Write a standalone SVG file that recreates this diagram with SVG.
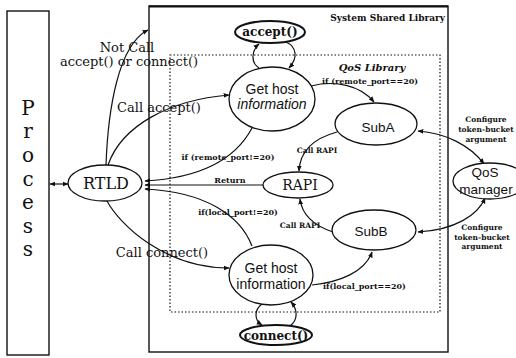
<svg xmlns="http://www.w3.org/2000/svg" width="516" height="358" viewBox="0 0 516 358">
  <defs>
    <marker id="ah" viewBox="0 0 10 10" refX="9" refY="5" markerWidth="6" markerHeight="6" markerUnits="userSpaceOnUse" orient="auto-start-reverse">
      <path d="M0,1 L10,5 L0,9 z" fill="#111"/>
    </marker>
  </defs>
  <style>
    .box { fill: none; stroke: #111; stroke-width: 1.4; }
    .dotted { fill: none; stroke: #111; stroke-width: 1.2; stroke-dasharray: 1.5 2; }
    .node { fill: #fff; stroke: #111; stroke-width: 1.3; }
    .call { fill: #fff; stroke: #111; stroke-width: 2; }
    .edge { fill: none; stroke: #111; stroke-width: 1.2; }
    text { fill: #111; }
    .serif { font-family: "DejaVu Serif", serif; }
    .sans { font-family: "Liberation Sans", Arial, sans-serif; }
    .big { font-family: "DejaVu Serif", serif; font-size: 13px; }
    .cond { font-family: "DejaVu Serif", serif; font-size: 8px; font-weight: bold; }
    .small { font-family: "DejaVu Serif", serif; font-size: 7.5px; font-weight: bold; }
    .proc { font-family: "DejaVu Serif", serif; font-size: 20px; }
  </style>

  <!-- Process column -->
  <g id="process">
    <rect class="box" x="7" y="11" width="42" height="344"/>
    <g class="proc" text-anchor="middle">
      <text x="28" y="115">P</text>
      <text x="28" y="138">r</text>
      <text x="28" y="162">o</text>
      <text x="28" y="186">c</text>
      <text x="28" y="209">e</text>
      <text x="28" y="233">s</text>
      <text x="28" y="256">s</text>
    </g>
  </g>

  <!-- Library frames -->
  <g id="system-shared-library">
    <rect class="box" x="149" y="6" width="299" height="346"/>
    <line x1="149" y1="6.5" x2="448" y2="6.5" stroke="#111" stroke-width="2"/>
    <text class="serif" x="445" y="21" font-size="9" font-weight="bold" text-anchor="end">System Shared Library</text>
  </g>
  <g id="qos-library">
    <rect class="dotted" x="170" y="55" width="270" height="257"/>
    <text class="serif" x="372" y="71" font-size="10" font-weight="bold" font-style="italic" text-anchor="middle">QoS Library</text>
  </g>

  <!-- Connectors -->
  <g id="connectors">
    <path class="edge" d="M50,184 L68,184" marker-start="url(#ah)" marker-end="url(#ah)"/>
    <path class="edge" d="M106,165 C108,110 118,45 148,30" marker-end="url(#ah)"/>
    <path class="edge" d="M108,165 C122,125 170,100 229,95" marker-end="url(#ah)"/>
    <path class="edge" d="M107,201 C120,225 165,268 229,268" marker-end="url(#ah)"/>
    <path class="edge" d="M252,128 C235,160 200,178 145,181" marker-end="url(#ah)"/>
    <path class="edge" d="M263,185 L145,185" marker-end="url(#ah)"/>
    <path class="edge" d="M252,246 C240,215 205,192 145,189" marker-end="url(#ah)"/>
    <path class="edge" d="M311,86 C335,80 360,85 374,102" marker-end="url(#ah)"/>
    <path class="edge" d="M337,132 C315,138 300,150 299,171" marker-end="url(#ah)"/>
    <path class="edge" d="M333,232 C315,226 302,215 300,199" marker-end="url(#ah)"/>
    <path class="edge" d="M312,285 C340,282 365,272 372,252" marker-end="url(#ah)"/>
    <path class="edge" d="M418,131 C445,133 470,145 484,164" marker-start="url(#ah)" marker-end="url(#ah)"/>
    <path class="edge" d="M485,198 C478,215 455,230 418,232" marker-start="url(#ah)" marker-end="url(#ah)"/>
    <!-- accept() loop -->
    <path class="edge" d="M259,68 C250,62 252,50 259,44" marker-end="url(#ah)"/>
    <path class="edge" d="M286,42 C297,47 298,58 289,68" marker-end="url(#ah)"/>
    <!-- connect() loop -->
    <path class="edge" d="M262,304 C254,310 254,320 262,325" marker-end="url(#ah)"/>
    <path class="edge" d="M290,326 C298,320 298,310 291,302" marker-end="url(#ah)"/>

    <text class="big" x="127" y="52" text-anchor="middle">Not Call</text>
    <text class="big" x="129" y="66" font-size="12.5" text-anchor="middle">accept() or connect()</text>
    <text class="big" x="159" y="112" text-anchor="middle">Call accept()</text>
    <text class="big" x="162" y="257" text-anchor="middle">Call connect()</text>
    <text class="cond" x="228" y="160" text-anchor="middle">if (remote_port!=20)</text>
    <text class="cond" x="230" y="183" text-anchor="middle">Return</text>
    <text class="cond" x="238" y="215" text-anchor="middle">if(local_port!=20)</text>
    <text class="cond" x="322" y="84">if (remote_port==20)</text>
    <text class="cond" x="323" y="289">if(local_port==20)</text>
    <text class="small" x="317" y="153" text-anchor="middle">Call RAPI</text>
    <text class="small" x="300" y="228" text-anchor="middle">Call RAPI</text>
    <g class="small" text-anchor="middle">
      <text x="486" y="122">Configure</text>
      <text x="486" y="132">token-bucket</text>
      <text x="486" y="142">argument</text>
      <text x="482" y="230">Configure</text>
      <text x="482" y="240">token-bucket</text>
      <text x="482" y="249">argument</text>
    </g>
  </g>

  <!-- Nodes -->
  <g id="rtld">
    <ellipse class="node" cx="105" cy="183" rx="37" ry="18"/>
    <text class="serif" x="106" y="189" font-size="16" text-anchor="middle">RTLD</text>
  </g>
  <g id="accept">
    <ellipse class="call" cx="270" cy="32" rx="35" ry="11"/>
    <text class="serif" x="270" y="36" font-size="12" font-weight="bold" text-anchor="middle">accept()</text>
  </g>
  <g id="get-host-accept">
    <ellipse class="node" cx="272" cy="99" rx="43" ry="32"/>
    <text class="sans" x="272" y="94" font-size="14" text-anchor="middle">Get host</text>
    <text class="sans" x="272" y="109" font-size="14" font-style="italic" text-anchor="middle">information</text>
  </g>
  <g id="suba">
    <ellipse class="node" cx="376" cy="124" rx="41" ry="21"/>
    <text class="sans" x="378" y="132" font-size="13.5" text-anchor="middle">SubA</text>
  </g>
  <g id="rapi">
    <ellipse class="node" cx="298" cy="185" rx="35" ry="13"/>
    <text class="serif" x="300" y="190" font-size="14" text-anchor="middle">RAPI</text>
  </g>
  <g id="subb">
    <ellipse class="node" cx="374" cy="230" rx="42" ry="20"/>
    <text class="sans" x="371" y="236" font-size="13.5" text-anchor="middle">SubB</text>
  </g>
  <g id="get-host-connect">
    <ellipse class="node" cx="271" cy="275" rx="42" ry="30"/>
    <text class="sans" x="271" y="273" font-size="14" text-anchor="middle">Get host</text>
    <text class="sans" x="271" y="289" font-size="14" text-anchor="middle">information</text>
  </g>
  <g id="connect">
    <ellipse class="call" cx="276" cy="335" rx="36" ry="10"/>
    <text class="serif" x="276" y="340" font-size="12" font-weight="bold" text-anchor="middle">connect()</text>
  </g>
  <g id="qos-manager">
    <ellipse class="node" cx="490" cy="181" rx="37" ry="18"/>
    <text class="sans" x="485" y="177" font-size="13.5" text-anchor="middle">QoS</text>
    <text class="sans" x="486" y="194" font-size="13.5" text-anchor="middle">manager</text>
  </g>
</svg>
